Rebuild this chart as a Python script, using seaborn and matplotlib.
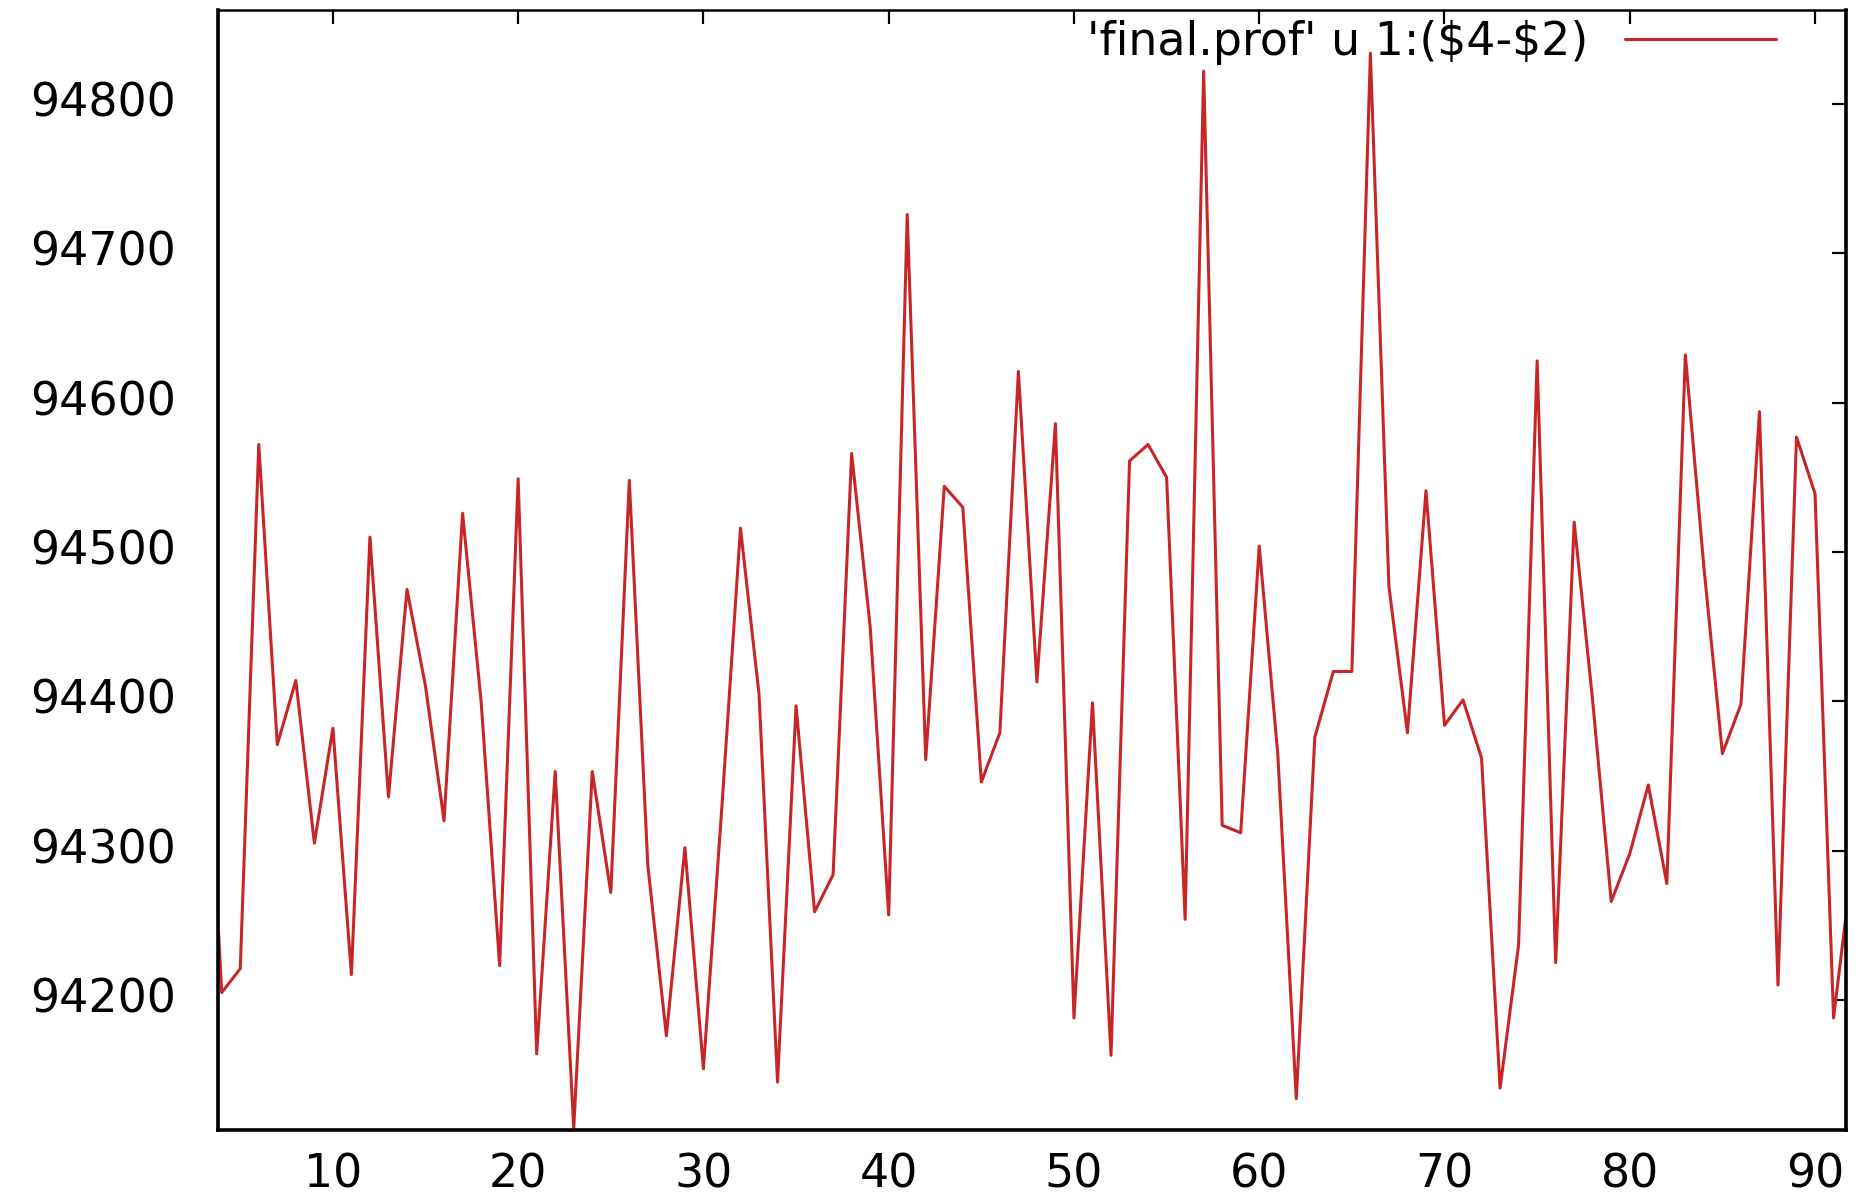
import matplotlib
matplotlib.use("Agg")
import matplotlib.pyplot as plt
import seaborn as sns
import pandas as pd

# Profile difference (column 4 minus column 2) per step
steps = list(range(3, 93))
diff_values = [
    94440, 94205, 94221, 94572, 94371, 94414, 94305, 94382, 94217, 94510,
    94336, 94475, 94410, 94320, 94526, 94400, 94223, 94549, 94164, 94353,
    94114, 94353, 94272, 94548, 94290, 94176, 94302, 94154, 94330, 94516,
    94405, 94145, 94397, 94259, 94284, 94566, 94450, 94257, 94726, 94361,
    94544, 94530, 94346, 94379, 94621, 94413, 94586, 94188, 94399, 94163,
    94561, 94572, 94550, 94254, 94822, 94317, 94312, 94504, 94365, 94134,
    94376, 94420, 94420, 94834, 94477, 94379, 94541, 94384, 94401, 94362,
    94141, 94237, 94628, 94225, 94520, 94400, 94266, 94298, 94344, 94278,
    94632, 94490, 94365, 94398, 94594, 94210, 94577, 94539, 94188, 94290,
]
series_label = "'final.prof' u 1:(\\$4-\\$2)"
x_ticks = [10, 20, 30, 40, 50, 60, 70, 80, 90]
y_ticks = [94200, 94300, 94400, 94500, 94600, 94700, 94800]

df = pd.DataFrame({"step": steps, "diff": diff_values})

sns.set_style("white")
plt.rcParams["font.family"] = ["DejaVu Sans"]
plt.rcParams["text.color"] = "black"

fig = plt.figure(figsize=(18.65, 11.99), dpi=100)
ax = fig.add_axes([0.1169, 0.0576, 0.9898 - 0.1169, 0.9917 - 0.0576])

sns.lineplot(data=df, x="step", y="diff", ax=ax, color="#c82626",
             linewidth=2.2, label=series_label)

ax.set_xlim(3.8, 91.67)
ax.set_ylim(94113, 94863)
ax.set_xticks(x_ticks)
ax.set_yticks(y_ticks)
ax.set_xlabel("")
ax.set_ylabel("")

ax.tick_params(axis="both", direction="in", length=10, width=1.6,
               colors="black", top=True, right=True)
ax.tick_params(axis="y", pad=30, labelsize=33)
ax.tick_params(axis="x", pad=16, labelsize=33)
for lbl in ax.get_yticklabels():
    lbl.set_verticalalignment("center")

for side in ["left", "bottom", "right"]:
    ax.spines[side].set_linewidth(2.6)
    ax.spines[side].set_color("black")
ax.spines["top"].set_linewidth(1.8)
ax.spines["top"].set_color("black")

ax.legend(loc="center right", bbox_to_anchor=(0.957, 0.971),
          frameon=False, markerfirst=False, fontsize=33,
          labelcolor="black", handlelength=3.3, handletextpad=0.8,
          borderpad=0, borderaxespad=0)

fig.savefig("out.png", dpi=100, facecolor="white")
